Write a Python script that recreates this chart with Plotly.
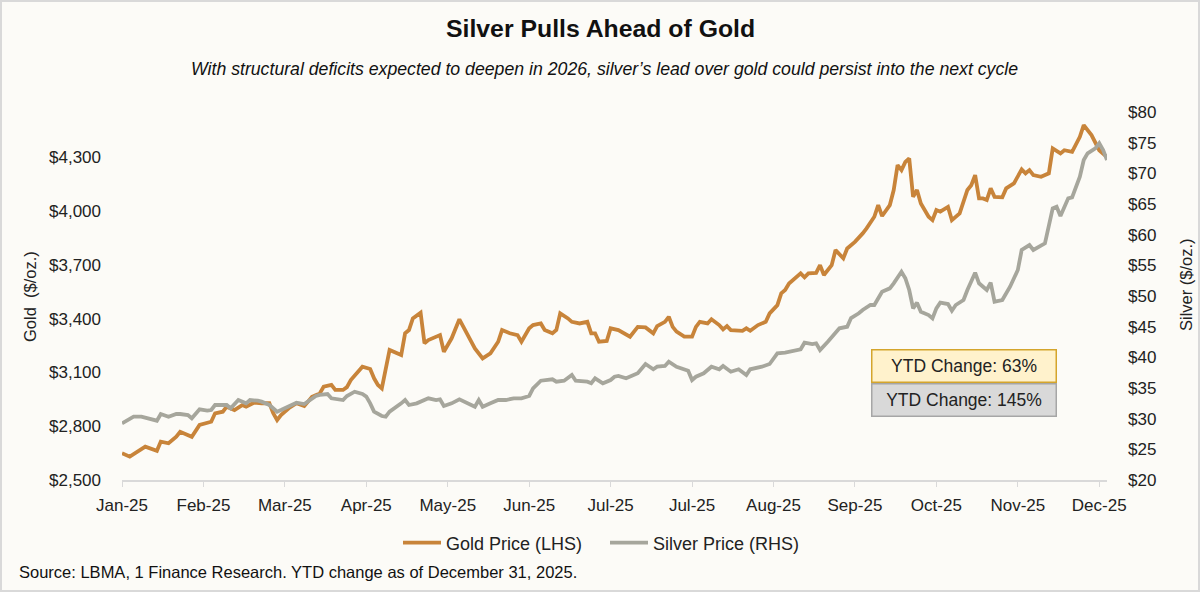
import plotly.graph_objects as go

# trading-day index (0 = 2 Jan 2025) and LBMA prices
gold_day = [0, 2, 6, 9, 10, 12, 14, 15, 18, 20, 23, 24, 26, 27, 29, 31, 32, 34, 36, 38,
            39, 40, 41, 43, 45, 47, 49, 51, 52, 54, 55, 57, 58, 59, 62, 63, 64, 65, 66, 67,
            68, 69, 72, 73, 74, 75, 77, 78, 79, 80, 82, 83, 85, 87, 89, 91, 93, 95, 97, 98,
            100, 102, 103, 105, 106, 108, 109, 111, 112, 113, 115, 116, 118, 120, 121, 122, 123, 125, 126, 128,
            131, 133, 135, 137, 138, 140, 141, 142, 143, 145, 147, 148, 149, 151, 152, 154, 155, 156, 157, 160,
            161, 162, 164, 166, 167, 169, 170, 171, 172, 174, 175, 176, 177, 179, 180, 181, 183, 184, 186, 187,
            189, 191, 192, 194, 195, 196, 198, 199, 200, 201, 202, 203, 204, 205, 206, 208, 209, 210, 211, 213,
            214, 216, 218, 219, 220, 221, 222, 223, 224, 225, 227, 228, 230, 232, 233, 234, 235, 237, 239, 240,
            242, 243, 245, 247, 248, 250, 251, 252, 254]
gold_price = [2649, 2630, 2686, 2663, 2714, 2705, 2741, 2769, 2741, 2807, 2825, 2872, 2881, 2909, 2890, 2918, 2909, 2931, 2928, 2928,
              2872, 2834, 2862, 2900, 2928, 2912, 2964, 2983, 3020, 3030, 3002, 3002, 3018, 3057, 3132, 3125, 3119, 3067, 3030, 3011,
              3123, 3225, 3197, 3318, 3336, 3401, 3433, 3262, 3280, 3290, 3308, 3215, 3290, 3396, 3318, 3234, 3178, 3206, 3271, 3336,
              3318, 3308, 3271, 3346, 3364, 3373, 3336, 3318, 3336, 3429, 3401, 3382, 3373, 3382, 3318, 3318, 3271, 3275, 3346, 3336,
              3299, 3354, 3351, 3318, 3358, 3382, 3410, 3354, 3327, 3299, 3299, 3354, 3382, 3373, 3396, 3364, 3340, 3358, 3336, 3332,
              3346, 3332, 3364, 3382, 3429, 3475, 3541, 3559, 3596, 3633, 3652, 3630, 3652, 3655, 3698, 3643, 3698, 3782, 3736, 3791,
              3828, 3875, 3903, 3968, 4033, 3972, 4033, 4117, 4256, 4228, 4274, 4293, 4079, 4117, 4042, 3968, 3949, 4005, 3996, 4023,
              3949, 3987, 4117, 4144, 4200, 4070, 4070, 4061, 4126, 4079, 4076, 4126, 4154, 4232, 4210, 4228, 4200, 4191, 4210, 4349,
              4321, 4339, 4330, 4414, 4479, 4423, 4377, 4339, 4300]

silver_day = [0, 2, 3, 5, 7, 9, 10, 12, 14, 15, 17, 18, 20, 22, 23, 24, 26, 27, 28, 30,
              32, 33, 35, 36, 38, 40, 41, 43, 45, 47, 48, 50, 51, 53, 54, 57, 58, 60, 62, 63,
              64, 65, 67, 68, 69, 71, 72, 73, 74, 76, 79, 81, 82, 83, 85, 87, 89, 91, 92, 93,
              95, 97, 99, 101, 103, 105, 106, 108, 111, 112, 114, 116, 117, 120, 121, 122, 124, 126, 127, 128,
              130, 131, 133, 135, 137, 138, 140, 141, 143, 146, 147, 148, 150, 152, 154, 155, 157, 159, 161, 162,
              165, 167, 169, 171, 173, 175, 176, 178, 179, 180, 182, 184, 185, 187, 188, 190, 191, 193, 194, 196,
              198, 199, 201, 202, 203, 204, 205, 206, 208, 209, 210, 211, 213, 214, 215, 217, 218, 220, 221, 223,
              224, 225, 227, 229, 231, 232, 234, 235, 237, 238, 240, 241, 242, 244, 245, 247, 248, 249, 251, 252,
              253, 254]
silver_price = [29.24, 30.06, 30.32, 30.32, 30.06, 29.67, 30.76, 30.32, 30.76, 30.76, 30.60, 30.06, 31.53, 31.30, 31.41, 32.23, 32.23, 32.23, 31.69, 33.04,
                32.50, 33.04, 32.93, 32.77, 32.23, 31.14, 31.41, 32.06, 32.60, 32.39, 32.77, 33.70, 33.86, 34.02, 33.32, 33.04, 33.70, 34.40, 34.02, 33.60,
                32.50, 31.14, 30.43, 30.32, 31.14, 31.95, 32.50, 33.04, 32.23, 32.50, 33.32, 33.04, 33.16, 32.06, 32.50, 33.16, 32.50, 31.95, 33.04, 31.95,
                32.50, 33.04, 33.04, 33.32, 33.32, 33.70, 34.95, 36.19, 36.42, 36.03, 36.19, 37.12, 36.19, 36.03, 35.77, 36.58, 35.77, 36.30, 36.84, 36.96,
                36.58, 36.84, 37.40, 38.91, 38.05, 38.47, 38.59, 39.29, 38.47, 37.82, 36.30, 36.84, 37.40, 38.47, 38.05, 38.59, 37.66, 38.05, 37.12, 38.05,
                38.47, 38.91, 40.66, 40.76, 41.08, 41.31, 42.39, 42.17, 42.29, 41.20, 42.55, 43.92, 44.73, 44.99, 46.41, 47.18, 47.72, 48.53, 48.53, 50.70,
                51.25, 52.07, 53.96, 52.89, 50.98, 47.99, 48.91, 47.44, 46.90, 46.36, 47.99, 48.91, 48.69, 47.60, 48.53, 49.35, 50.98, 53.80, 52.07, 50.98,
                52.17, 49.07, 49.35, 51.52, 54.24, 57.50, 58.31, 57.50, 58.31, 58.59, 64.30, 64.56, 63.04, 65.93, 66.09, 69.45, 72.17, 73.26, 74.08, 74.90,
                73.80, 72.17]

tick_days = [0, 21, 42, 63, 84, 105, 126, 147, 168, 189, 210, 231, 252]
tick_labels = ['Jan-25', 'Feb-25', 'Mar-25', 'Apr-25', 'May-25', 'Jun-25', 'Jul-25',
               'Jul-25', 'Aug-25', 'Sep-25', 'Oct-25', 'Nov-25', 'Dec-25']

gold_ticks = [2500, 2800, 3100, 3400, 3700, 4000, 4300]
ytd_gold = 63
ytd_silver = 145

GOLD = '#C8843A'
SILVER = '#A6A69C'
BG = '#FCFBF7'
FONT = 'Arial, Liberation Sans, sans-serif'

# plot area spans x 122..1107, y 112..480 in page pixels
def px(x):
    return (x - 122) / 985

def py(y):
    return (480 - y) / 368

fig = go.Figure()
fig.add_trace(go.Scatter(x=gold_day, y=gold_price, name='Gold Price (LHS)',
                         mode='lines', line=dict(color=GOLD, width=3.8)))
fig.add_trace(go.Scatter(x=silver_day, y=silver_price, name='Silver Price (RHS)',
                         mode='lines', line=dict(color=SILVER, width=3.8), yaxis='y2'))

fig.update_layout(
    width=1200, height=592,
    margin=dict(l=122, r=93, t=112, b=112),
    paper_bgcolor=BG, plot_bgcolor=BG,
    font=dict(family=FONT, size=17, color='#222222'),
    showlegend=True,
    legend=dict(orientation='h', x=px(398), xanchor='left', y=py(543), yanchor='middle',
                font=dict(size=18), bgcolor='rgba(0,0,0,0)', entrywidth=154, itemwidth=38),
    xaxis=dict(range=[0, 254], tickvals=tick_days, ticktext=tick_labels,
               showgrid=False, zeroline=False, showline=True, linecolor='#D9D9D9', linewidth=1.5,
               ticks='outside', ticklen=5, tickcolor='#D9D9D9', ticklabelstandoff=4),
    yaxis=dict(range=[2500, 4552], tickvals=gold_ticks,
               ticktext=[f'${v:,}' for v in gold_ticks],
               showgrid=False, zeroline=False, showline=False, ticklabelstandoff=20),
    yaxis2=dict(range=[20, 80], dtick=5, tickprefix='$', overlaying='y', side='right',
                showgrid=False, zeroline=False, showline=False, ticklabelstandoff=20),
)

fig.add_annotation(text='<b>Silver Pulls Ahead of Gold</b>', xref='paper', yref='paper',
                   x=px(600), y=py(28), xanchor='center', yanchor='middle', showarrow=False,
                   font=dict(size=24.8, color='#111111'))
fig.add_annotation(text="<i>With structural deficits expected to deepen in 2026, silver’s lead over gold could persist into the next cycle</i>",
                   xref='paper', yref='paper', x=px(604), y=py(69), xanchor='center', yanchor='middle',
                   showarrow=False, font=dict(size=17.7, color='#111111'))
fig.add_annotation(text='Gold\u00a0\u00a0($/oz.)', xref='paper', yref='paper', textangle=-90,
                   x=px(30), y=py(297), xanchor='center', yanchor='middle', showarrow=False,
                   font=dict(size=16.5))
fig.add_annotation(text='Silver ($/oz.)', xref='paper', yref='paper', textangle=-90,
                   x=px(1186), y=py(285), xanchor='center', yanchor='middle', showarrow=False,
                   font=dict(size=16.5))
fig.add_annotation(text='Source: LBMA, 1 Finance Research. YTD change as of December 31, 2025.',
                   xref='paper', yref='paper', x=px(17), xanchor='left',
                   y=py(572), yanchor='middle', showarrow=False, font=dict(size=16.5, color='#111111'))

fig.add_annotation(text=f'YTD Change: {ytd_gold}%', xref='paper', yref='paper',
                   x=px(963.5), y=py(365.5), xanchor='center', yanchor='middle', showarrow=False,
                   width=181, height=29, bgcolor='#FFF2CC', bordercolor='#D4A52C',
                   borderwidth=1.5, borderpad=1, font=dict(size=17.5))
fig.add_annotation(text=f'YTD Change: {ytd_silver}%', xref='paper', yref='paper',
                   x=px(963.5), y=py(399.5), xanchor='center', yanchor='middle', showarrow=False,
                   width=181, height=29, bgcolor='#D9D9D9', bordercolor='#A6A6A6',
                   borderwidth=1.5, borderpad=1, font=dict(size=17.5))

# thin frame round the whole picture
fig.add_shape(type='rect', xref='paper', yref='paper',
              x0=px(1), x1=px(1199), y0=py(591), y1=py(1),
              line=dict(color='#D9D9D9', width=2), fillcolor='rgba(0,0,0,0)', layer='below')

fig.write_html('out.html', config={'displayModeBar': False},
               post_script="document.body.style.margin='0';")
